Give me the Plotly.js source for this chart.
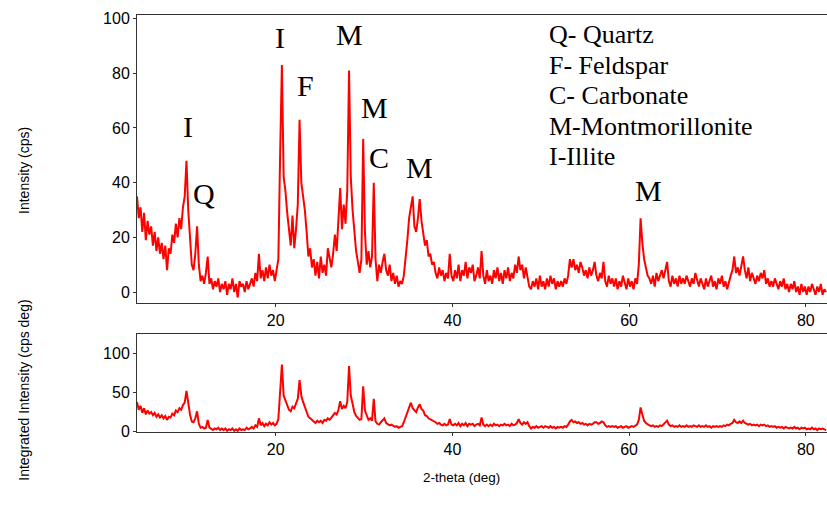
<!DOCTYPE html>
<html>
<head>
<meta charset="utf-8">
<script src="https://cdn.plot.ly/plotly-3.0.1.min.js"></script>
<style>html,body{margin:0;padding:0;background:#fff;}#chart{width:827px;height:505px;}</style>
</head>
<body>
<div id="chart"></div>
<script>
// 2-theta sampling grid (deg)
const twoThetaStart = 4.3;
const twoThetaStep = 0.2;

// Intensity (cps)
const intensity = [
  35, 27, 31, 22, 29, 19, 26, 21, 24, 17,
  22, 15, 20, 14, 18, 12, 17, 8, 16, 14,
  21, 18, 25, 20, 27, 23, 31, 35, 48, 30,
  20, 10, 8, 14, 24, 10, 4, 6, 3, 7,
  13, 3, 5, 1, 4, 2, 5, 0, 3, 1,
  4, -1, 3, 1, 5, 0, 3, -2, 4, 2,
  3, 0, 4, 1, 3, 5, 2, 7, 4, 14,
  5, 8, 4, 9, 5, 10, 6, 8, 4, 9,
  12, 50, 83, 42, 37, 29, 24, 17, 28, 16,
  23, 32, 63, 40, 35, 30, 22, 13, 16, 9,
  12, 6, 11, 5, 13, 7, 10, 6, 16, 12,
  9, 14, 21, 15, 26, 38, 23, 32, 25, 37,
  81, 42, 30, 21, 15, 11, 7, 12, 56, 22,
  10, 15, 9, 13, 40, 12, 4, 10, 7, 11,
  14, 8, 6, 10, 4, 7, 3, 6, 2, 4,
  3, 6, 12, 19, 27, 31, 35, 24, 22, 27,
  34, 26, 22, 17, 19, 13, 14, 10, 11, 7,
  5, 9, 6, 8, 4, 7, 5, 14, 6, 4,
  8, 5, 10, 4, 8, 6, 11, 5, 9, 7,
  10, 4, 6, 9, 5, 15, 6, 3, 8, 4,
  6, 3, 8, 5, 9, 4, 7, 3, 8, 5,
  9, 4, 7, 5, 10, 7, 13, 8, 10, 5,
  9, 6, 2, 1, 4, 2, 5, 1, 6, 2,
  4, 1, 5, 2, 6, 3, 5, 1, 4, 2,
  4, 2, 5, 3, 6, 12, 9, 12, 8, 10,
  7, 11, 9, 6, 8, 5, 9, 6, 8, 11,
  6, 4, 7, 5, 11, 4, 2, 6, 3, 5,
  2, 5, 1, 4, 2, 6, 3, 1, 5, 2,
  4, 1, 5, 3, 10, 27, 18, 12, 9, 6,
  5, 3, 6, 2, 7, 4, 6, 8, 5, 8,
  11, 4, 2, 6, 3, 5, 2, 6, 3, 5,
  3, 6, 4, 2, 5, 3, 7, 4, 2, 5,
  3, 1, 5, 2, 4, 6, 2, 4, 1, 5,
  3, 6, 2, 4, 1, 4, 6, 8, 13, 7,
  9, 6, 10, 13, 8, 5, 9, 4, 7, 5,
  3, 6, 4, 7, 5, 8, 3, 5, 2, 4,
  2, 5, 3, 1, 4, 2, 5, 1, 3, 0,
  3, 1, 4, 0, 2, -1, 3, 0, 2, -1,
  2, 0, 3, 1, -1, 2, 0, 3, -1, 1, 0
];

// Integrated intensity (cps deg)
const integrated = [
  38, 28, 33, 24, 30, 22, 27, 23, 25, 21,
  24, 19, 22, 18, 21, 17, 20, 15, 19, 18,
  23, 21, 27, 25, 30, 28, 34, 37, 52, 34,
  22, 13, 12, 17, 26, 10, 5, 6, 4, 5,
  15, 5, 4, 2, 4, 3, 5, 2, 4, 2,
  4, 1, 3, 2, 4, 1, 3, 1, 4, 2,
  3, 2, 5, 3, 4, 6, 4, 8, 6, 17,
  8, 11, 7, 10, 8, 12, 9, 11, 8, 10,
  16, 55, 86, 46, 39, 34, 28, 26, 32, 30,
  36, 42, 66, 46, 38, 31, 24, 19, 17, 15,
  13, 11, 14, 12, 14, 11, 15, 14, 17, 15,
  18, 21, 24, 22, 28, 39, 29, 33, 30, 38,
  84, 46, 33, 25, 20, 17, 15, 16, 58, 27,
  20, 15, 17, 14, 42, 13, 10, 9, 12, 14,
  17, 11, 9, 8, 9, 7, 6, 7, 5, 6,
  7, 12, 18, 24, 32, 37, 30, 27, 25, 31,
  35, 29, 27, 21, 20, 17, 16, 14, 13, 12,
  10, 11, 9, 8, 10, 8, 9, 16, 9, 8,
  10, 8, 11, 7, 10, 8, 11, 7, 10, 9,
  10, 7, 9, 10, 8, 18, 9, 7, 9, 7,
  9, 7, 10, 8, 9, 7, 9, 8, 10, 8,
  9, 7, 10, 8, 9, 11, 16, 11, 9, 12,
  10, 12, 7, 4, 6, 5, 7, 5, 6, 7,
  5, 7, 6, 5, 7, 5, 6, 4, 6, 5,
  6, 5, 7, 6, 9, 13, 15, 12, 13, 11,
  12, 10, 11, 9, 10, 8, 10, 9, 10, 12,
  12, 10, 11, 13, 12, 8, 6, 7, 6, 7,
  6, 7, 5, 6, 7, 5, 6, 7, 5, 6,
  7, 6, 8, 9, 15, 31, 22, 14, 11, 9,
  8, 7, 8, 6, 7, 6, 8, 7, 9, 11,
  14, 9, 7, 8, 6, 7, 6, 8, 6, 7,
  6, 8, 6, 7, 6, 8, 7, 6, 8, 6,
  7, 6, 8, 6, 7, 5, 7, 6, 7, 6,
  7, 6, 8, 7, 9, 8, 10, 11, 15, 12,
  11, 13, 11, 14, 11, 10, 9, 10, 8, 9,
  8, 9, 7, 9, 8, 9, 7, 8, 6, 7,
  6, 7, 5, 6, 5, 6, 4, 6, 5, 4,
  5, 4, 6, 4, 5, 3, 5, 4, 5, 3,
  4, 3, 5, 3, 4, 2, 4, 3, 4, 3, 2
];

// Tick labels
const xTicks = [20, 40, 60, 80];
const yTopTicks = [0, 20, 40, 60, 80, 100];
const yBottomTicks = [0, 50, 100];

// Phase labels on peaks
const peakLabels = ['I', 'Q', 'I', 'F', 'M', 'M', 'C', 'M', 'M'];
const peakLabelX = [10.11, 11.88, 20.43, 23.39, 28.33, 31.20, 31.67, 36.25, 62.17];
const peakLabelY = [60.5, 36.2, 93.2, 75.4, 94.3, 67.3, 49.2, 45.6, 37.1];

// Key text
const keyLines = ['Q- Quartz', 'F- Feldspar', 'C- Carbonate', 'M-Montmorillonite', 'I-Illite'];
const keyY = [94.0, 83.0, 71.9, 60.4, 49.4];

const twoTheta = intensity.map((_, i) => +(twoThetaStart + i * twoThetaStep).toFixed(2));

const sans = 'Liberation Sans, Arial, sans-serif';
const serif = 'Liberation Serif, Times New Roman, serif';

const traces = [
  {x: twoTheta, y: intensity, type: 'scatter', mode: 'lines', xaxis: 'x', yaxis: 'y',
   line: {color: '#ff0000', width: 2}, hoverinfo: 'skip'},
  {x: twoTheta, y: integrated, type: 'scatter', mode: 'lines', xaxis: 'x2', yaxis: 'y2',
   line: {color: '#ff0000', width: 2}, hoverinfo: 'skip'}
];

const axisCommon = {
  showgrid: false, zeroline: false, showline: true, linecolor: '#333', linewidth: 1,
  ticks: 'outside', ticklen: 3, tickcolor: '#333',
  tickfont: {family: sans, size: 16, color: '#000'}
};

const annotations = [];
peakLabels.forEach((t, i) => annotations.push({
  text: t, x: peakLabelX[i], y: peakLabelY[i], xref: 'x', yref: 'y',
  showarrow: false, xanchor: 'center', yanchor: 'middle',
  font: {family: serif, size: 30, color: '#000'}
}));
keyLines.forEach((t, i) => annotations.push({
  text: t, x: 50.75, y: keyY[i], xref: 'x', yref: 'y',
  showarrow: false, xanchor: 'left', yanchor: 'middle',
  font: {family: serif, size: 26, color: '#000'}
}));
annotations.push({text: 'Intensity (cps)', xref: 'paper', yref: 'paper', x: -0.164, y: 0.628,
  textangle: -90, showarrow: false, xanchor: 'center', yanchor: 'middle',
  font: {family: sans, size: 14, color: '#000'}});
annotations.push({text: 'Integrated Intensity (cps deg)', xref: 'paper', yref: 'paper', x: -0.164, y: 0.101,
  textangle: -90, showarrow: false, xanchor: 'center', yanchor: 'middle',
  font: {family: sans, size: 14, color: '#000'}});
annotations.push({text: '2-theta (deg)', xref: 'paper', yref: 'paper', x: 0.471, y: -0.110,
  showarrow: false, xanchor: 'center', yanchor: 'middle',
  font: {family: sans, size: 13.5, color: '#000'}});

const layout = {
  width: 827, height: 505,
  margin: {l: 137, r: 0, t: 15, b: 73},
  paper_bgcolor: '#fff', plot_bgcolor: '#fff',
  showlegend: false,
  xaxis: Object.assign({}, axisCommon, {anchor: 'y', domain: [0, 1], range: [4.3, 82.4],
    tickvals: xTicks, mirror: true}),
  yaxis: Object.assign({}, axisCommon, {anchor: 'x', domain: [0.3094, 1], range: [-4, 101.3],
    tickvals: yTopTicks}),
  xaxis2: Object.assign({}, axisCommon, {anchor: 'y2', domain: [0, 1], range: [4.3, 82.4],
    tickvals: xTicks, mirror: true}),
  yaxis2: Object.assign({}, axisCommon, {anchor: 'x2', domain: [0, 0.235], range: [-0.5, 125],
    tickvals: yBottomTicks}),
  annotations: annotations
};

Plotly.newPlot('chart', traces, layout, {staticPlot: true, displayModeBar: false});
</script>
</body>
</html>
